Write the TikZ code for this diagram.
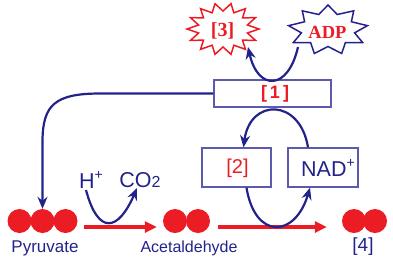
\documentclass[tikz,border=0pt]{standalone}
\usepackage{fontspec}
\setmainfont{Liberation Sans}
\newfontfamily\serifb{Liberation Serif}
\usetikzlibrary{arrows.meta}
\definecolor{navy}{HTML}{22228A}
\definecolor{rd}{HTML}{EC1C24}
\definecolor{boxc}{HTML}{5A5AAE}
\begin{document}
\begin{tikzpicture}[x=1pt,y=-1pt,
  ball/.style={circle, fill=rd, minimum size=24pt, inner sep=0pt},
  lbl/.style={text=navy, inner sep=0pt, font=\fontsize{16}{18}\selectfont},
  big/.style={inner sep=0pt, font=\fontsize{21.5}{24}\selectfont},
  bx/.style={draw=boxc, line width=1.3pt, inner sep=0pt},
  bluearrow/.style={draw=navy, line width=2.2pt, -{Stealth[length=12pt,width=10pt]}},
  redarrow/.style={draw=rd, line width=3.5pt, -{Triangle[length=12pt,width=11pt]}},
  startxt/.style={inner sep=0pt, text=rd, font=\serifb\bfseries\fontsize{20}{20}\selectfont}]
\useasboundingbox (0,0) rectangle (393,263);
% stars
\draw[rd, line width=1.5pt] ({223+36*cos(102.857)},{29-26*sin(102.857)})
  \foreach \k in {0,...,13}{ -- ({223+25*cos(102.857+(\k+0.5)*25.714)},{29-18*sin(102.857+(\k+0.5)*25.714)})
   -- ({223+36*cos(102.857+(\k+1)*25.714)},{29-26*sin(102.857+(\k+1)*25.714)}) } -- cycle;
\draw[navy, line width=1.5pt] ({328+40*cos(90)},{30-25*sin(90)})
  \foreach \k in {0,...,8}{ -- ({328+27*cos(90+(\k+0.5)*40)},{30-16.5*sin(90+(\k+0.5)*40)})
   -- ({328+40*cos(90+(\k+1)*40)},{30-25*sin(90+(\k+1)*40)}) } -- cycle;
\node[startxt] (s3) at (222.5,31) {[3]};
\node[startxt, font=\serifb\bfseries\fontsize{18.5}{18}\selectfont] (adp) at (327.5,32) {ADP};
% boxes
\node[bx, minimum width=117pt, minimum height=27pt] (b1) at (272.5,93.5) {};
\node[text=rd, inner sep=0pt, font=\bfseries\fontsize{18}{18}\selectfont] (t1) at (275,94) {[\,1\,]};
\node[bx, minimum width=69pt, minimum height=39pt] (b2) at (236.5,167.5) {};
\node[text=rd, inner sep=0pt, font=\fontsize{20}{20}\selectfont] (t2) at (237.5,168) {[2]};
\node[bx, minimum width=70pt, minimum height=39pt] (nad) at (323,167.5) {};
\node[big, text=navy] (tnad) at (328,168) {NAD\raisebox{0.4em}{\fontsize{14}{14}\selectfont +}};
% balls
\node[ball] (p1) at (19.5,221) {};
\node[ball] (p2) at (42.5,221) {};
\node[ball] (p3) at (65.5,221) {};
\node[ball] (a1) at (175,221) {};
\node[ball] (a2) at (198,221) {};
\node[ball] (f1) at (354,221) {};
\node[ball] (f2) at (375,221) {};
% labels
\node[lbl, font=\fontsize{17}{18}\selectfont] (lp) at (45,248) {Pyruvate};
\node[lbl] (la) at (189,248) {Acetaldehyde};
\node[lbl, font=\fontsize{19}{20}\selectfont] (l4) at (363,247) {[4]};
\node[big, text=navy] (hp) at (91,180) {H\raisebox{0.4em}{\fontsize{14}{14}\selectfont +}};
\node[big, text=navy] (co) at (140,180) {CO{\fontsize{16}{16}\selectfont 2}};
% coordinates
\coordinate (adpout) at (298,47);
\coordinate (tip3) at (248,47);
\coordinate (hstart) at (86,190);
\coordinate (cotip) at (137,188);
% red arrows
\draw[redarrow] ([xshift=6pt,yshift=-6pt]p3.east) -- ([xshift=-6pt,yshift=-6pt]a1.west);
\draw[redarrow] ([xshift=8pt,yshift=-6pt]a2.east) -- ([xshift=-15pt,yshift=-6pt]f1.west);
% blue arrows
\draw[bluearrow] (adpout) .. controls (288,91) and (258,91) .. (tip3);
\draw[bluearrow] (b1.west) -- (100,93.5) .. controls (55,93.5) and (43,105) .. (42.5,140) -- (p2.north);
\draw[bluearrow] (hstart) .. controls (98,235) and (118,232) .. (cotip);
\draw[bluearrow] ([xshift=-15pt]nad.north) .. controls (300,98) and (250,98) .. ([xshift=7pt]b2.north);
\draw[bluearrow] ([xshift=10pt]b2.south) .. controls (255,240) and (295,238) .. ([xshift=-13pt]nad.south);
\end{tikzpicture}
\end{document}
